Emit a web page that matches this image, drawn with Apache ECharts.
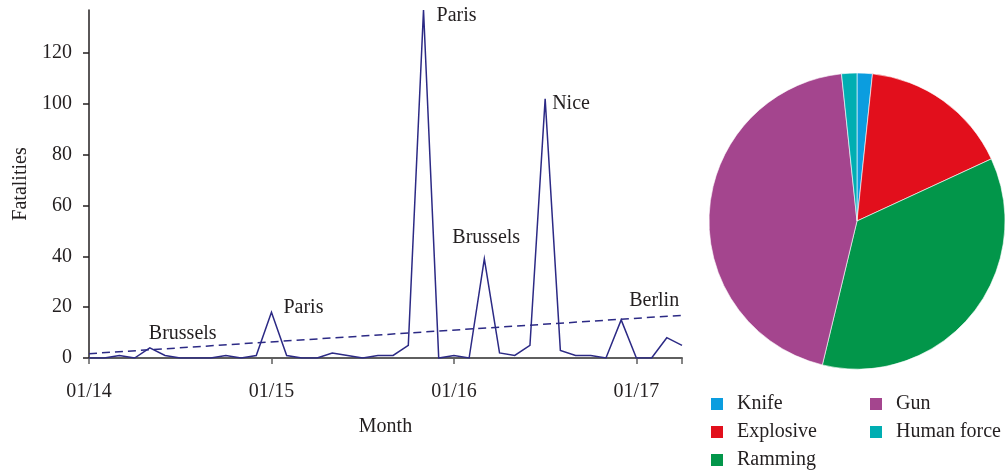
<!DOCTYPE html>
<html>
<head>
<meta charset="utf-8">
<script src="https://cdn.jsdelivr.net/npm/echarts@6/dist/echarts.min.js"></script>
<style>
  html, body { margin: 0; padding: 0; background: #fff; }
  #chart { width: 1007px; height: 470px; }
</style>
</head>
<body>
<div id="chart"></div>
<script>
// Monthly fatalities, January 2014 to April 2017
const months = [
  '01/14','02/14','03/14','04/14','05/14','06/14','07/14','08/14','09/14','10/14','11/14','12/14',
  '01/15','02/15','03/15','04/15','05/15','06/15','07/15','08/15','09/15','10/15','11/15','12/15',
  '01/16','02/16','03/16','04/16','05/16','06/16','07/16','08/16','09/16','10/16','11/16','12/16',
  '01/17','02/17','03/17','04/17'
];
const fatalities = [
  0, 0, 1, 0, 4, 1, 0, 0, 0, 1, 0, 1,
  18, 1, 0, 0, 2, 1, 0, 1, 1, 5, 137, 0,
  1, 0, 39, 2, 1, 5, 102, 3, 1, 1, 0, 15,
  0, 0, 8, 5
];
// Linear trend, value at first and last month
const trendStart = 1.7;
const trendEnd = 16.8;

// Named attacks, keyed by month index
const eventNames = { 4: 'Brussels', 12: 'Paris', 22: 'Paris', 26: 'Brussels', 30: 'Nice', 35: 'Berlin' };
const eventLabelOffsets = { 4: [-6, -14], 12: [7, -5], 22: [8, 6], 26: [-37, -21], 30: [2, 5], 35: [3, -19] };

// Fatalities by weapon type
const weapons = ['Knife', 'Explosive', 'Ramming', 'Gun', 'Human force'];
const weaponFatalities = [6, 59, 128, 160, 6];
const weaponColors = ['#0b9ddf', '#e20f1c', '#02964a', '#a4458e', '#00aeb2'];

const FONT = 'Liberation Serif';
const INK = '#231f20';
const LINE = '#2c2a85';

const lineData = fatalities.map((v, i) => {
  if (!(i in eventNames)) return v;
  return {
    value: v,
    label: {
      show: true,
      position: 'right',
      offset: eventLabelOffsets[i],
      formatter: eventNames[i],
      fontFamily: FONT,
      fontSize: 20,
      color: INK
    }
  };
});

const legendBase = {
  orient: 'vertical',
  top: 394,
  height: 100,
  padding: 0,
  icon: 'rect', itemWidth: 14, itemHeight: 14, itemGap: 8,
  selectedMode: false,
  textStyle: { fontFamily: FONT, fontSize: 20, color: INK, padding: [0, 0, 0, 8] }
};

const chart = echarts.init(document.getElementById('chart'), null, { renderer: 'canvas' });
chart.setOption({
  animation: false,
  backgroundColor: '#fff',
  grid: { left: 89, right: 325, top: 10, bottom: 112, containLabel: false },
  xAxis: {
    type: 'category',
    data: months,
    boundaryGap: false,
    name: 'Month',
    nameLocation: 'middle',
    nameGap: 59,
    nameTextStyle: { fontFamily: FONT, fontSize: 20, color: INK },
    axisLine: { lineStyle: { color: '#5f5f5f', width: 2 } },
    axisTick: {
      interval: (i) => i % 12 === 0 || i === months.length - 1,
      length: 6,
      lineStyle: { color: '#5f5f5f', width: 1.5 }
    },
    axisLabel: {
      interval: (i) => i % 12 === 0,
      margin: 24,
      fontFamily: FONT,
      fontSize: 20,
      color: INK
    },
    splitLine: { show: false }
  },
  yAxis: {
    type: 'value',
    min: 0,
    max: 137,
    interval: 20,
    name: 'Fatalities',
    nameLocation: 'middle',
    nameGap: 58,
    nameTextStyle: { fontFamily: FONT, fontSize: 20, color: INK },
    axisLine: { show: true, lineStyle: { color: INK, width: 1.5 } },
    axisTick: { show: true, length: 6, lineStyle: { color: INK, width: 1.5 } },
    axisLabel: { showMaxLabel: false, margin: 17, fontFamily: FONT, fontSize: 20, color: INK },
    splitLine: { show: false }
  },
  legend: [
    Object.assign({}, legendBase, { data: weapons.slice(0, 3), left: 709 }),
    Object.assign({}, legendBase, { data: weapons.slice(3), left: 868 })
  ],
  series: [
    {
      name: 'Fatalities',
      type: 'line',
      data: lineData,
      symbol: 'circle',
      symbolSize: 0,
      showSymbol: true,
      silent: true,
      lineStyle: { color: LINE, width: 1.5, join: 'miter' },
      itemStyle: { color: LINE },
      emphasis: { disabled: true }
    },
    {
      name: 'Trend',
      type: 'line',
      data: [[0, trendStart], [months.length - 1, trendEnd]],
      symbol: 'none',
      silent: true,
      lineStyle: { color: LINE, width: 1.5, type: [8, 5] },
      emphasis: { disabled: true }
    },
    {
      name: 'Weapon',
      type: 'pie',
      center: [857, 221],
      radius: 148,
      startAngle: 90,
      clockwise: true,
      silent: true,
      label: { show: false },
      labelLine: { show: false },
      itemStyle: { borderColor: '#ffffff', borderWidth: 0.6 },
      emphasis: { disabled: true },
      data: weapons.map((w, i) => ({ name: w, value: weaponFatalities[i], itemStyle: { color: weaponColors[i] } }))
    }
  ]
});
</script>
</body>
</html>
